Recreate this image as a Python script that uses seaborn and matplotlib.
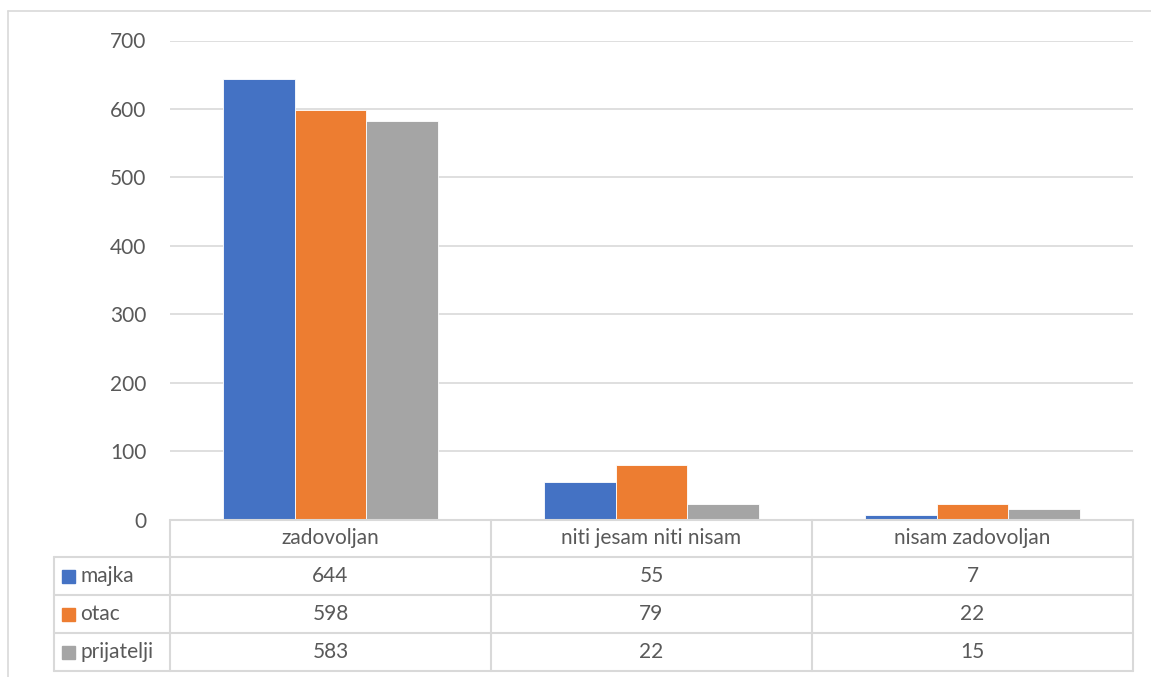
import pandas as pd
import matplotlib
matplotlib.use("Agg")
import matplotlib.pyplot as plt
import seaborn as sns

categories = ["zadovoljan", "niti jesam niti nisam", "nisam zadovoljan"]
series = ["majka", "otac", "prijatelji"]
majka = [644, 55, 7]
otac = [598, 79, 22]
prijatelji = [583, 22, 15]
colors = ["#4472C4", "#ED7D31", "#A5A5A5"]

df = pd.DataFrame({
    "kategorija": categories * 3,
    "serija": [s for s in series for _ in categories],
    "broj": majka + otac + prijatelji,
})

sns.set_theme(style="white")
plt.rcParams['font.family'] = ['Lato', 'DejaVu Sans']
txt = "#595959"
grid = "#D9D9D9"
fs = 15

W, H = 1151, 677
fig = plt.figure(figsize=(W / 100, H / 100), dpi=100)

# pixel layout of the Excel chart
ax_l, ax_r, ax_t, ax_b = 170, 1133, 40.5, 519.5
tab_b = 671
lab_l = 54
ax = fig.add_axes([ax_l / W, 1 - ax_b / H, (ax_r - ax_l) / W, (ax_b - ax_t) / H])

sns.barplot(data=df, x="kategorija", y="broj", hue="serija", palette=colors,
            saturation=1, width=0.667, ax=ax, edgecolor="white", linewidth=0.6,
            legend=False)
ax.set_xlim(-0.5, len(categories) - 0.5)
ax.set_ylim(0, 700)
ax.set_yticks(range(0, 701, 100))
ax.tick_params(axis="y", labelsize=fs, labelcolor=txt, length=0, pad=17)
ax.set_xticks([])
ax.set_xlabel("")
ax.set_ylabel("")
ax.yaxis.grid(True, color=grid, linewidth=1.2)
ax.set_axisbelow(True)
for s in ax.spines.values():
    s.set_visible(False)

# data table under the chart
tab = fig.add_axes([ax_l / W, 1 - tab_b / H, (ax_r - ax_l) / W, (tab_b - ax_b) / H],
                   sharex=ax)
tab.set_ylim(4, 0)
tab.axis("off")
n = len(categories)
unit = (ax_r - ax_l) / n
x0 = -0.5 - (ax_l - lab_l) / unit
kw = dict(color=grid, linewidth=1.5, clip_on=False)
tab.plot([-0.5, n - 0.5], [0, 0], **kw)
for r in range(1, 5):
    tab.plot([x0, n - 0.5], [r, r], **kw)
for c in range(n + 1):
    tab.plot([c - 0.5, c - 0.5], [0, 4], **kw)
tab.plot([x0, x0], [1, 4], **kw)

for i, cat in enumerate(categories):
    tab.text(i, 0.5, cat, ha="center", va="center", fontsize=fs, color=txt)
values = [majka, otac, prijatelji]
for r, (name, vals, col) in enumerate(zip(series, values, colors)):
    y = r + 1.5
    tab.add_patch(plt.Rectangle((x0 + 8 / unit, y - 0.17), 13 / unit, 0.34,
                                color=col, clip_on=False))
    tab.text(x0 + 26 / unit, y, name, ha="left", va="center", fontsize=fs, color=txt)
    for i, v in enumerate(vals):
        tab.text(i, y, str(v), ha="center", va="center", fontsize=fs, color=txt)

# outer chart border (top and left edges visible)
fig.add_artist(plt.Line2D([8 / W, 8 / W], [0, 1 - 11 / H], color=grid, linewidth=1.2))
fig.add_artist(plt.Line2D([8 / W, 1], [1 - 11 / H, 1 - 11 / H], color=grid, linewidth=1.2))

fig.savefig("out.png", dpi=100, facecolor="white")
